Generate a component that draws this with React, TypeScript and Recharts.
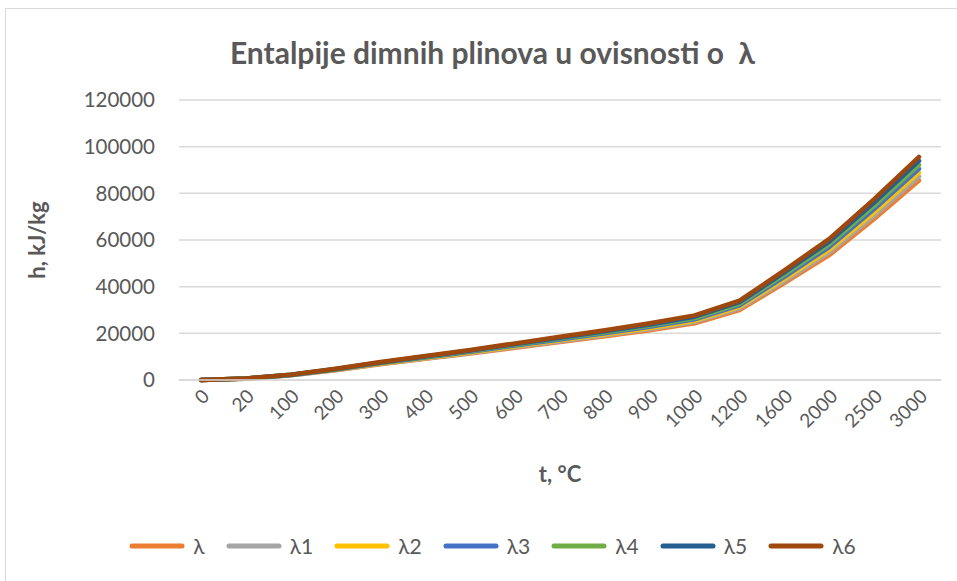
import React from 'react';
import { LineChart, Line, XAxis, YAxis, CartesianGrid, Legend, Label } from 'recharts';

const temps = ['0', '20', '100', '200', '300', '400', '500', '600', '700', '800', '900', '1000', '1200', '1600', '2000', '2500', '3000'];
const lam = [0, 570, 2000, 4200, 6750, 9050, 11300, 13800, 16250, 18700, 21300, 24300, 30000, 41500, 53500, 69000, 85500];
const lam1 = [0, 583, 2050, 4300, 6910, 9260, 11570, 14120, 16620, 19130, 21800, 24870, 30670, 42420, 54670, 70420, 87180];
const lam2 = [0, 597, 2100, 4400, 7070, 9470, 11830, 14430, 17000, 19570, 22300, 25430, 31330, 43330, 55830, 71830, 88870];
const lam3 = [0, 610, 2150, 4500, 7225, 9675, 12100, 14750, 17375, 20000, 22800, 26000, 32000, 44250, 57000, 73250, 90550];
const lam4 = [0, 623, 2200, 4600, 7380, 9880, 12370, 15070, 17750, 20430, 23300, 26570, 32670, 45170, 58170, 74670, 92230];
const lam5 = [0, 637, 2250, 4700, 7540, 10090, 12630, 15380, 18120, 20870, 23800, 27130, 33330, 46080, 59330, 76080, 93920];
const lam6 = [0, 650, 2300, 4800, 7700, 10300, 12900, 15700, 18500, 21300, 24300, 27700, 34000, 47000, 60500, 77500, 95600];
const yTicks = [0, 20000, 40000, 60000, 80000, 100000, 120000];

const seriesNames = ['λ', 'λ1', 'λ2', 'λ3', 'λ4', 'λ5', 'λ6'];
const seriesValues = [lam, lam1, lam2, lam3, lam4, lam5, lam6];
const colors = ['#ED7D31', '#A5A5A5', '#FFC000', '#4472C4', '#70AD47', '#255E91', '#9E480E'];

const data = temps.map((t, i) => {
  const row: Record<string, string | number> = { t };
  seriesNames.forEach((n, k) => {
    row[n] = seriesValues[k][i];
  });
  return row;
});

const FONT = 'Lato, "Noto Sans", sans-serif';
const TEXT = '#595959';

const LegendContent = () => (
  <div style={{ display: 'flex', justifyContent: 'center', alignItems: 'center', fontFamily: FONT, fontSize: 21, color: TEXT }}>
    {seriesNames.map((n, k) => (
      <div key={n} style={{ display: 'flex', alignItems: 'center', marginRight: k < seriesNames.length - 1 ? 21 : 0 }}>
        <svg width={56} height={8} style={{ display: 'block' }}>
          <line x1={3} y1={4} x2={53} y2={4} stroke={colors[k]} strokeWidth={5} strokeLinecap="round" />
        </svg>
        <span style={{ marginLeft: 8, lineHeight: '24px' }}>{n}</span>
      </div>
    ))}
  </div>
);

export default function App() {
  return (
    <div style={{ position: 'absolute', left: 0, top: 0, width: 957, height: 581, overflow: 'hidden', background: '#fff' }}>
      <div style={{ position: 'absolute', left: 5, top: 8, width: 1200, height: 1200, border: '1px solid #d9d9d9' }} />
      <div style={{ position: 'absolute', left: 0, top: 33, width: 985, textAlign: 'center', fontFamily: FONT, fontWeight: 700, fontSize: 30, lineHeight: '38px', color: TEXT, whiteSpace: 'pre' }}>
        {'Entalpije dimnih plinova u ovisnosti o  λ'}
      </div>
      <LineChart width={957} height={581} data={data} margin={{ top: 100, right: 16, left: 0, bottom: 0 }} style={{ position: 'absolute', left: 0, top: 0 }}>
        <CartesianGrid vertical={false} stroke="#d9d9d9" strokeWidth={1.5} />
        <XAxis
          dataKey="t"
          interval={0}
          angle={-45}
          textAnchor="end"
          height={201}
          padding={{ left: 22, right: 22 }}
          tickLine={false}
          axisLine={{ stroke: '#d9d9d9', strokeWidth: 1.5 }}
          tick={{ fill: TEXT, fontSize: 19, fontFamily: FONT }}
          tickMargin={2}
        >
          <Label value="t, °C" position="insideTop" offset={86} style={{ fill: TEXT, fontSize: 22, fontWeight: 700, fontFamily: FONT }} />
        </XAxis>
        <YAxis
          domain={[0, 120000]}
          ticks={yTicks}
          width={179}
          tickLine={false}
          axisLine={false}
          tickSize={0}
          tickMargin={24}
          tick={{ fill: TEXT, fontSize: 20.5, fontFamily: FONT }}
        >
          <Label value="h, kJ/kg" angle={-90} position="insideLeft" offset={37} style={{ fill: TEXT, fontSize: 22, fontWeight: 700, fontFamily: FONT, textAnchor: 'middle' }} />
        </YAxis>
        <Legend verticalAlign="middle" align="center" layout="horizontal" content={<LegendContent />} wrapperStyle={{ left: 0, top: 534, width: 985 }} />
        {seriesNames.map((n, k) => (
          <Line
            key={n}
            type="linear"
            dataKey={n}
            stroke={colors[k]}
            strokeWidth={4.5}
            strokeLinecap="round"
            strokeLinejoin="round"
            dot={false}
            activeDot={false}
            isAnimationActive={false}
          />
        ))}
      </LineChart>
    </div>
  );
}
